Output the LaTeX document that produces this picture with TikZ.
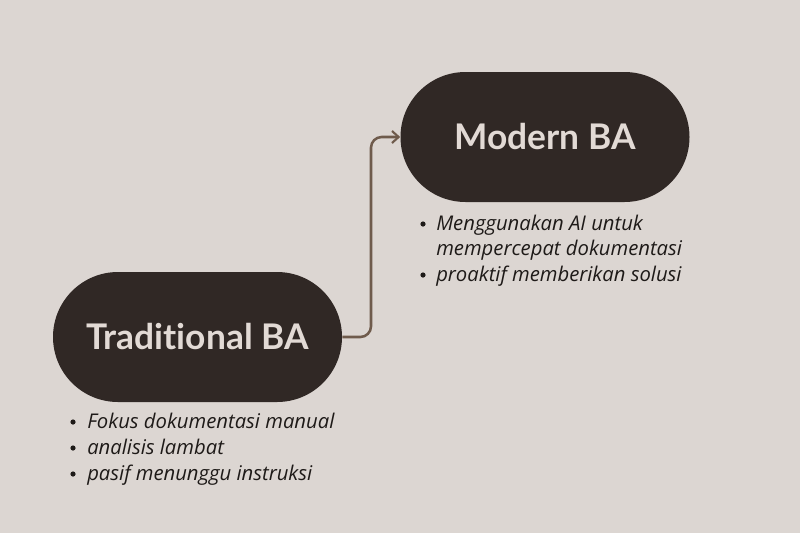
\documentclass[tikz,border=0pt]{standalone}
\usepackage{fontspec}
\setmainfont{Lato}[Ligatures={NoCommon,NoRare}]
\newfontfamily\listfont{Open Sans}
\usetikzlibrary{arrows.meta}
\definecolor{bg}{HTML}{DCD6D2}
\definecolor{pill}{HTML}{302825}
\definecolor{pilltext}{HTML}{E2DAD5}
\definecolor{conncol}{HTML}{6F5B4C}
\definecolor{txt}{HTML}{1E1A18}
\tikzset{
  pillbox/.style={fill=pill, text=pilltext, rounded corners=48.75pt,
    minimum width=216.75pt, minimum height=97.5pt, inner sep=0pt,
    font=\fontsize{26.5}{30}\selectfont\bfseries},
  conn/.style={draw=conncol, line width=1.9pt, rounded corners=8pt,
    -{Straight Barb[length=5pt,width=9pt,line width=1.6pt]}},
  bul/.style={circle, fill=txt, inner sep=0pt, minimum size=3.9pt},
  item/.style={anchor=base west, text=txt, inner sep=0pt, font=\listfont\fontsize{15.2}{17}\selectfont\itshape}
}
\begin{document}
\begin{tikzpicture}[x=0.75pt,y=-0.75pt]
\fill[bg] (0,0) rectangle (800,533);
\useasboundingbox (0,0) rectangle (800,533);
\node[pillbox] (trad) at (197.5,337) {Traditional BA};
\node[pillbox] (modern) at (545,137) {Modern BA};
\coordinate (bend) at (371,337);
\draw[conn] (trad.east) -- (bend) |- (modern.west);
% lower list
\node[bul] (b1) at (73,422) {};
\node[item] (t1) at (87,428) {Fokus dokumentasi manual};
\node[bul] (b2) at (73,448) {};
\node[item] (t2) at (87,454) {analisis lambat};
\node[bul] (b3) at (73,474) {};
\node[item] (t3) at (87,480) {pasif menunggu instruksi};
% upper list
\node[bul] (m1) at (423,224) {};
\node[item] (u1) at (436,230) {Menggunakan AI untuk};
\node[item] (u2) at (436,255) {mempercepat dokumentasi};
\node[bul] (m2) at (423,275) {};
\node[item] (u3) at (436,281) {proaktif memberikan solusi};
\end{tikzpicture}
\end{document}
